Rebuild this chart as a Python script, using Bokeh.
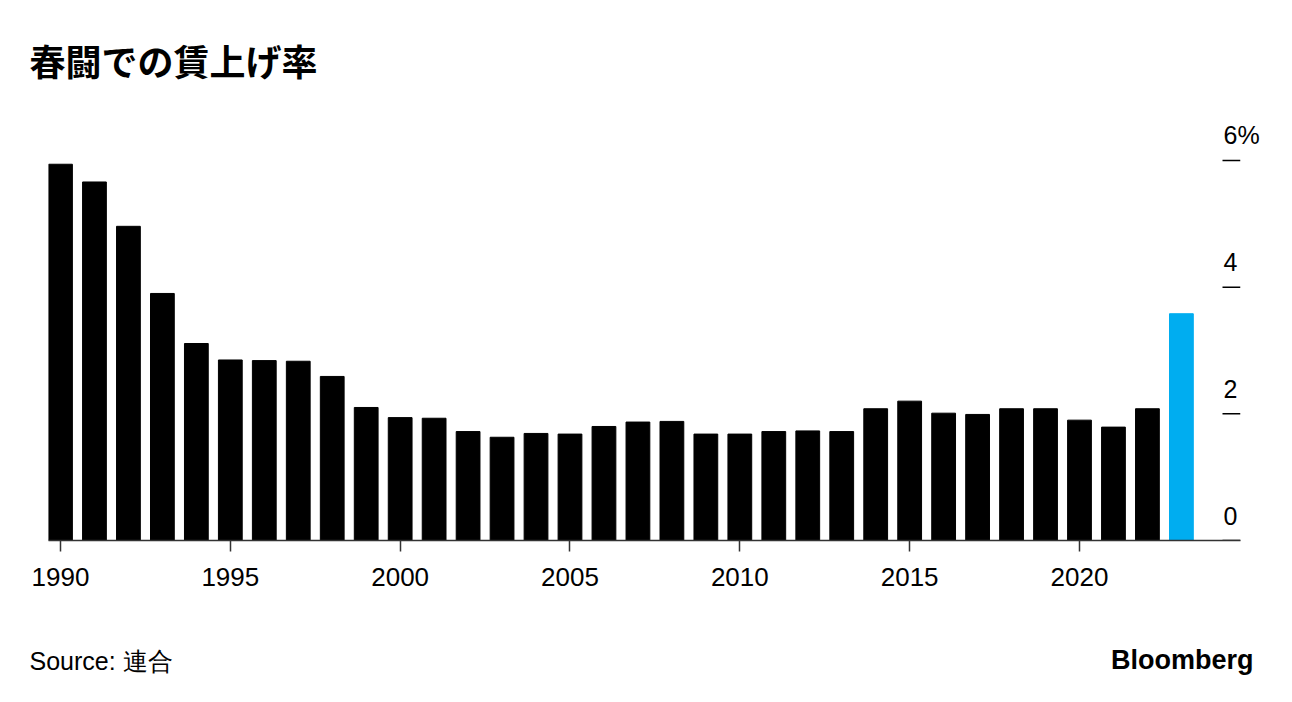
from bokeh.plotting import figure
from bokeh.layouts import column
from bokeh.models import Range1d, FixedTicker, LinearAxis, Label, ColumnDataSource
from bokeh.embed import file_html
from bokeh.resources import INLINE

# ---- data ----
years = list(range(1990, 2024))
rates = [5.94, 5.66, 4.96, 3.90, 3.11, 2.85, 2.84, 2.83, 2.59, 2.10,
         1.94, 1.93, 1.72, 1.63, 1.69, 1.68, 1.80, 1.87, 1.88, 1.68,
         1.68, 1.72, 1.73, 1.72, 2.08, 2.20, 2.01, 1.99, 2.08, 2.08,
         1.90, 1.79, 2.08, 3.58]
highlight_year = 2023
x_ticks = [1990, 1995, 2000, 2005, 2010, 2015, 2020]
y_ticks = [0, 2, 4, 6]
y_tick_labels = ["0", "2", "4", "6%"]
title_text = "春闘での賃上げ率"
source_text = "Source: 連合"
brand_text = "Bloomberg"

BLACK = "#000000"
BLUE = "#00adf0"
colors = [BLUE if y == highlight_year else BLACK for y in years]
src = ColumnDataSource(dict(year=years, rate=rates, color=colors))

# ---- layout constants ----
W, H = 1284, 620
FH = 74
BL, BR, BT, BB = 48, 44, 108, 80
X0, X1 = 1989.647, 2024.74
Y0, Y1 = 0, 6.82
frame_w = W - BL - BR
frame_h = H - BT - BB
px_x = frame_w / (X1 - X0)
px_y = frame_h / (Y1 - Y0)

p = figure(width=W, height=H, output_backend="svg", toolbar_location=None,
           x_range=Range1d(X0, X1), y_range=Range1d(Y0, Y1),
           min_border_left=BL, min_border_right=BR, min_border_top=BT,
           min_border_bottom=BB, y_axis_location=None)
p.outline_line_color = None
p.grid.visible = False
p.background_fill_color = "white"
p.border_fill_color = "white"

p.vbar(x="year", top="rate", width=0.7, color="color", source=src)

# x axis
xa = p.xaxis[0]
xa.ticker = FixedTicker(ticks=x_ticks)
xa.minor_tick_line_color = None
xa.major_tick_in = 0
xa.major_tick_out = 11
xa.major_tick_line_color = "#333333"
xa.major_tick_line_width = 1.5
xa.axis_line_color = "#333333"
xa.axis_line_width = 1.5
xa.major_label_text_font = "Liberation Sans"
xa.major_label_text_font_size = "26px"
xa.major_label_text_color = "#000000"
xa.major_label_standoff = 16

# short tick marks at the right edge of the frame for the y values
tick_len = 18 / px_x
p.segment(x0=[X1 - tick_len] * len(y_ticks), x1=[X1] * len(y_ticks),
          y0=y_ticks, y1=y_ticks, line_color="#000000", line_width=1.5)

# right axis: labels sitting above the tick marks
shift = 25 / px_y
p.extra_y_ranges = {"lab": Range1d(Y0 - shift, Y1 - shift)}
yl = LinearAxis(y_range_name="lab", ticker=FixedTicker(ticks=y_ticks))
yl.major_label_overrides = {t: s for t, s in zip(y_ticks, y_tick_labels)}
yl.axis_line_color = None
yl.minor_tick_line_color = None
yl.major_tick_line_color = None
yl.major_tick_in = 0
yl.major_tick_out = 0
yl.major_label_standoff = -17
yl.major_label_text_font = "Liberation Sans"
yl.major_label_text_font_size = "25px"
yl.major_label_text_color = "#000000"
p.add_layout(yl, "right")

# title
p.title.text = title_text
p.title.text_font = "Noto Sans CJK JP"
p.title.text_font_style = "bold"
p.title.text_font_size = "36px"
p.title.text_color = "#000000"
p.title.align = "left"
p.title.offset = -19
p.title.standoff = 45

# ---- footer strip ----
f = figure(width=W, height=FH, output_backend="svg", toolbar_location=None,
           x_range=Range1d(0, W), y_range=Range1d(FH, 0),
           min_border_left=0, min_border_right=0, min_border_top=0, min_border_bottom=0,
           x_axis_location=None, y_axis_location=None)
f.frame_align = False
f.outline_line_color = None
f.grid.visible = False
f.background_fill_color = "white"
f.border_fill_color = "white"
f.add_layout(Label(x=29, y=40, text=source_text,
                   text_font="Liberation Sans", text_font_size="25px",
                   text_color="#000000", text_baseline="alphabetic"))
f.add_layout(Label(x=1253, y=39, text=brand_text,
                   text_font="Liberation Sans", text_font_size="27px", text_font_style="bold",
                   text_color="#000000", text_align="right", text_baseline="alphabetic"))

layout = column(p, f, spacing=0)
open("out.html", "w").write(file_html(layout, INLINE))
